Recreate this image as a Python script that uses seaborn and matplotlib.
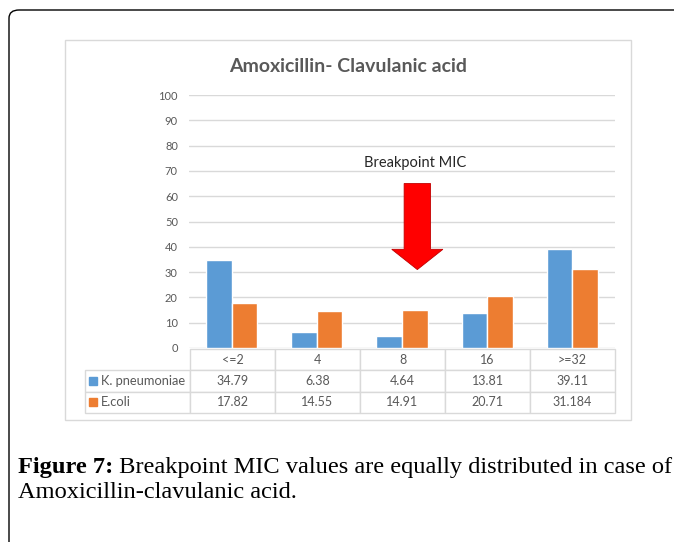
import matplotlib
matplotlib.use("Agg")
import matplotlib.pyplot as plt
from matplotlib.patches import Rectangle, FancyBboxPatch, FancyArrow
import seaborn as sns
import pandas as pd

# ---- data ----
categories = ["<=2", "4", "8", "16", ">=32"]
series_names = ["K. pneumoniae", "E.coli"]
k_pneumoniae = [34.79, 6.38, 4.64, 13.81, 39.11]
e_coli = [17.82, 14.55, 14.91, 20.71, 31.184]
k_labels = ["34.79", "6.38", "4.64", "13.81", "39.11"]
e_labels = ["17.82", "14.55", "14.91", "20.71", "31.184"]
y_ticks = list(range(0, 101, 10))
title = "Amoxicillin- Clavulanic acid"
annotation_text = "Breakpoint MIC"
annotation_category = "8"
annotation_y = 73
arrow_top = 65
arrow_tip = 31
caption_bold = "Figure 7:"
caption_rest = " Breakpoint MIC values are equally distributed in case of"
caption_line2 = "Amoxicillin-clavulanic acid."

colors = ["#5B9BD5", "#ED7D31"]
text_grey = "#595959"
grid_grey = "#d9d9d9"

df = pd.DataFrame({
    "MIC": categories * 2,
    "value": k_pneumoniae + e_coli,
    "series": [series_names[0]] * len(categories) + [series_names[1]] * len(categories),
})

sns.set_theme(style="white")
plt.rcParams["font.family"] = ["Lato", "DejaVu Sans"]

W, H = 674, 542
fig = plt.figure(figsize=(W / 100, H / 100), dpi=100)
fig.patch.set_facecolor("white")

# outer frame (only top and left edges visible, rounded corner)
frame = FancyBboxPatch((9 / W, -0.2), 1.2, (H - 10) / H + 0.2,
                       boxstyle="round,pad=0,rounding_size=0.015",
                       transform=fig.transFigure, fill=False,
                       edgecolor="black", linewidth=1.0)
fig.patches.append(frame)

# chart panel
panel = Rectangle((65 / W, (H - 420) / H), (631 - 65) / W, (420 - 40) / H,
                  transform=fig.transFigure, fill=False,
                  edgecolor=grid_grey, linewidth=1.0)
fig.patches.append(panel)

ax_left, ax_right = 189, 615
ax_top, ax_bottom = 95, 348
ax = fig.add_axes([ax_left / W, (H - ax_bottom) / H,
                   (ax_right - ax_left) / W, (ax_bottom - ax_top) / H])
sns.barplot(data=df, x="MIC", y="value", hue="series", palette=colors,
            width=0.6, saturation=1, legend=False, ax=ax, gap=0)
ax.set_ylim(0, 100)
ax.set_xlim(-0.5, len(categories) - 0.5)
ax.set_yticks(y_ticks)
ax.yaxis.grid(True, color=grid_grey, linewidth=1.0)
ax.set_axisbelow(True)
for s in ax.spines.values():
    s.set_visible(False)
ax.set_xticks([])
ax.set_xlabel("")
ax.set_ylabel("")
ax.tick_params(axis="y", length=0, labelsize=8, labelcolor=text_grey, pad=8)

fig.text(((65 + 631) / 2 - 0) / W, (H - 66) / H, title, ha="center", va="center",
         fontsize=14, fontweight="bold", color=text_grey)

# annotation + arrow
xi = categories.index(annotation_category)
ax.text(xi + 0.15, annotation_y, annotation_text, ha="center", va="center",
        fontsize=10.5, color="#262626")
ax.add_patch(FancyArrow(xi + 0.18, arrow_top, 0, arrow_tip - arrow_top,
                        width=0.31, head_width=0.6, head_length=8,
                        length_includes_head=True, facecolor="#FF0000",
                        edgecolor="#c00000", linewidth=0.6))

# data table below the axis
n = len(categories)
rows = [[""] + categories,
        [series_names[0]] + k_labels,
        [series_names[1]] + e_labels]
label_w = 105
col_w = (ax_right - 85 - label_w) / n
axw = ax_right - ax_left
axh = ax_bottom - ax_top
table_top, table_bottom = 349, 413
tbl = ax.table(cellText=rows,
               colWidths=[label_w] + [col_w] * n,
               cellLoc="center",
               bbox=[(85 - ax_left) / axw, -(table_bottom - ax_bottom) / axh,
                     (ax_right - 85) / axw, (table_bottom - table_top) / axh])
tbl.auto_set_font_size(False)
for (r, c), cell in tbl.get_celld().items():
    cell.set_edgecolor(grid_grey)
    cell.set_linewidth(1.0)
    cell.get_text().set_fontsize(9)
    cell.get_text().set_color(text_grey)
    if c == 0:
        cell.get_text().set_ha("left")
        cell.get_text().set_fontsize(9.3)
        cell.PAD = 0.15
    if r == 0 and c == 0:
        cell.visible_edges = ""
# legend keys in label column
for i, col in enumerate(colors):
    yc = -((table_top + 21.3 * (i + 1) + 10.5) - ax_bottom) / axh
    ax.plot([(93 - ax_left) / axw], [yc], marker="s", markersize=5.5,
            color=col, transform=ax.transAxes, clip_on=False)

# caption
serif = ["Liberation Serif", "DejaVu Serif"]
r = fig.canvas.get_renderer()
t1 = fig.text(18 / W, (H - 467) / H, caption_bold, ha="left", va="center",
              fontsize=17.6, fontweight="bold", family=serif, color="black")
bb = t1.get_window_extent(renderer=r)
fig.text(bb.x1 / W, (H - 467) / H, caption_rest, ha="left", va="center",
         fontsize=17.6, family=serif, color="black")
fig.text(18 / W, (H - 493) / H, caption_line2, ha="left", va="center",
         fontsize=17.6, family=serif, color="black")

fig.savefig("out.png", dpi=100)
